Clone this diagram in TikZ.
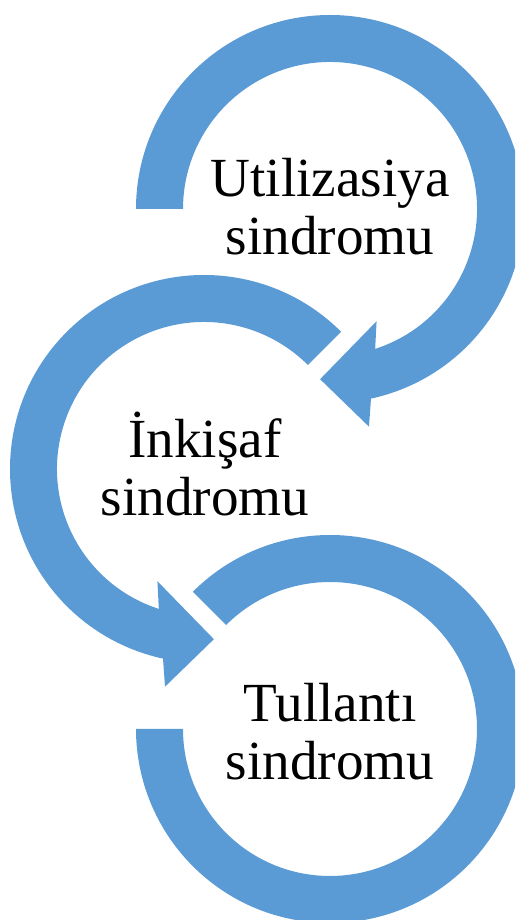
\documentclass[tikz,border=0pt]{standalone}
\usepackage{fontspec}
\setmainfont{Liberation Serif}
\definecolor{ringblue}{RGB}{91,155,213}
\tikzset{
  ring/.style={fill=ringblue, draw=none},
  ringlabel/.style={align=center, inner sep=0, font=\fontsize{31.4}{33}\selectfont}
}
\begin{document}
\begin{tikzpicture}[x=0.02cm, y=0.02cm]
    \clip (0,0) rectangle (515,920);
    % top ring, arrow ends at the bottom
    \begin{scope}[shift={(330,711)}]
      \fill[ring] (180:194) arc[start angle=180, end angle=-77.8, radius=194]
        -- (39,-217.7) -- (-9.9,-170.2) -- (46.6,-112.2) -- (-72.1:147)
        arc[start angle=-72.1, end angle=180, radius=147] -- cycle;
    \end{scope}
    % middle ring, mirrored
    \begin{scope}[shift={(204,451)}]
      \fill[ring] (45:194) arc[start angle=45, end angle=257.8, radius=194]
        -- (-39,-217.7) -- (9.9,-170.2) -- (-46.6,-112.2) -- (252.1:147)
        arc[start angle=252.1, end angle=45, radius=147] -- cycle;
    \end{scope}
    % bottom ring, no head
    \begin{scope}[shift={(330,191)}]
      \fill[ring] (135:194) arc[start angle=135, end angle=-180, radius=194]
        -- (-180:147) arc[start angle=-180, end angle=135, radius=147] -- cycle;
    \end{scope}
    \node[ringlabel] (util) at (330,713) {Utilizasiya\\sindromu};
    \node[ringlabel] (inkisaf) at (205,455.7) {İnkişaf\\sindromu};
    \node[ringlabel] (tullanti) at (330,188) {Tullantı\\sindromu};
\end{tikzpicture}
\end{document}
